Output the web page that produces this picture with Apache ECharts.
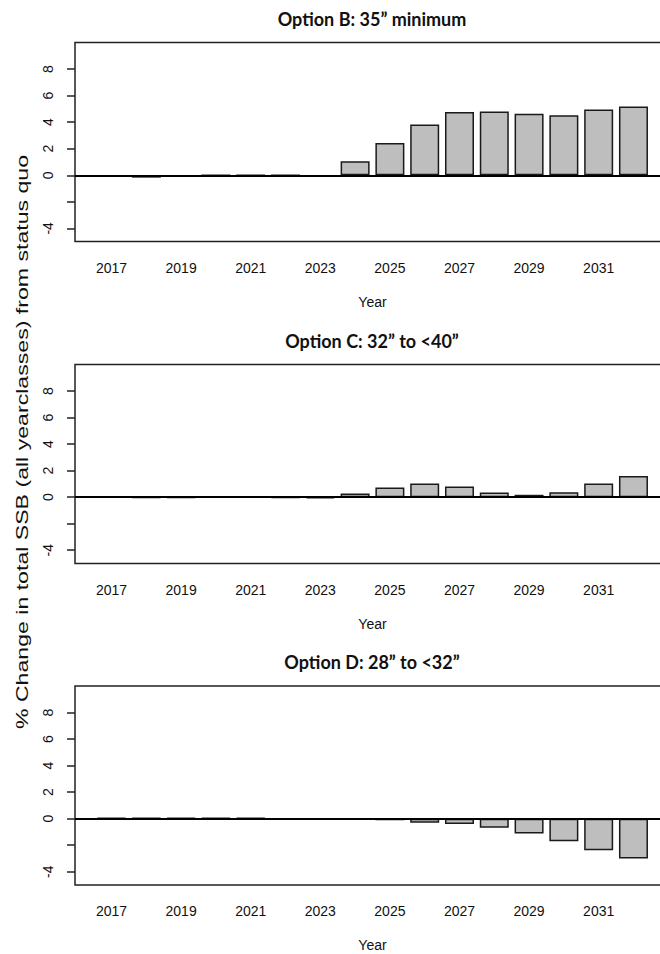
<!DOCTYPE html>
<html>
<head>
<meta charset="utf-8">
<script src="https://cdn.jsdelivr.net/npm/echarts@6/dist/echarts.min.js"></script>
<style>html,body{margin:0;padding:0;background:#fff}#c{width:660px;height:954px}</style>
</head>
<body>
<div id="c"></div>
<script>
const years = [2017,2018,2019,2020,2021,2022,2023,2024,2025,2026,2027,2028,2029,2030,2031,2032];
const optionB = [-0.12,-0.18,-0.08,0,0,0,-0.08,1.06,2.44,3.83,4.76,4.81,4.64,4.53,4.96,5.19];
const optionC = [0.02,-0.05,-0.05,0,0,-0.04,-0.1,0.28,0.73,1.03,0.81,0.35,0.18,0.38,1.03,1.59];
const optionD = [0.05,0.05,0.05,0.05,0.05,0,0,0,-0.12,-0.3,-0.4,-0.68,-1.11,-1.71,-2.39,-3.0];
const panelTitles = ['Option B: 35\u201d minimum','Option C: 32\u201d to <40\u201d','Option D: 28\u201d to <32\u201d'];
const xTickLabels = [2017,2019,2021,2023,2025,2027,2029,2031];
const yTicks = [-4,-2,0,2,4,6,8];
const yTickLabels = [-4,0,2,4,6,8];
const xName = 'Year';
const yName = '% Change in total SSB (all yearclasses) from status quo';

const panels = [optionB, optionC, optionD];
const tops = [42.6, 364.5, 686];
const gridH = 199;
const chart = echarts.init(document.getElementById('c'), null, {renderer:'svg'});
const font = "'Liberation Sans', Arial, sans-serif";

const grid = [], xAxis = [], yAxis = [], series = [], graphic = [];
panels.forEach((vals, i) => {
  grid.push({left:75, width:595, top:tops[i], height:gridH, outerBoundsMode:'none', containLabel:false,
    show:true, borderColor:'#222', borderWidth:1.5, backgroundColor:'transparent'});
  xAxis.push({type:'value', gridIndex:i, min:2015.95, max:2033.05,
    axisLine:{show:false}, axisTick:{show:false}, splitLine:{show:false},
    axisLabel:{customValues:xTickLabels, margin:19, fontFamily:font, fontSize:14, color:'#111', formatter:v=>String(v)},
    name:xName, nameLocation:'middle', nameGap:53, nameTextStyle:{fontFamily:font, fontSize:14, color:'#111'}});
  yAxis.push({type:'value', gridIndex:i, min:-5, max:10,
    axisLine:{show:false}, splitLine:{show:false},
    axisTick:{show:true, customValues:yTicks, length:8, inside:false, lineStyle:{color:'#222', width:1.5}},
    axisLabel:{customValues:yTickLabels, rotate:90, margin:20, fontFamily:font, fontSize:14, color:'#111'}});
  series.push({type:'bar', xAxisIndex:i, yAxisIndex:i, barWidth:29,
    data: years.map((y,k)=>[y, vals[k]]),
    itemStyle:{color:'#bebebe', borderColor:'#1a1a1a', borderWidth:1.5},
    silent:true, animation:false,
    markLine:{silent:true, symbol:'none', animation:false, label:{show:false},
      lineStyle:{color:'#000', width:2, type:'solid'}, data:[{yAxis:0}]}});
  graphic.push({type:'text', x:372, y:tops[i]-24,
    style:{text:panelTitles[i], font:'bold 18px Lato, "Open Sans", sans-serif', fill:'#111', textAlign:'center', textVerticalAlign:'middle'}});
});
graphic.push({type:'text', x:22, y:442, rotation:Math.PI/2, scaleX:1.36,
  style:{text:yName, font:"17px 'Liberation Sans', Arial, sans-serif", fill:'#111', textAlign:'center', textVerticalAlign:'middle'}});

chart.setOption({animation:false, grid, xAxis, yAxis, series, graphic});
</script>
</body>
</html>
